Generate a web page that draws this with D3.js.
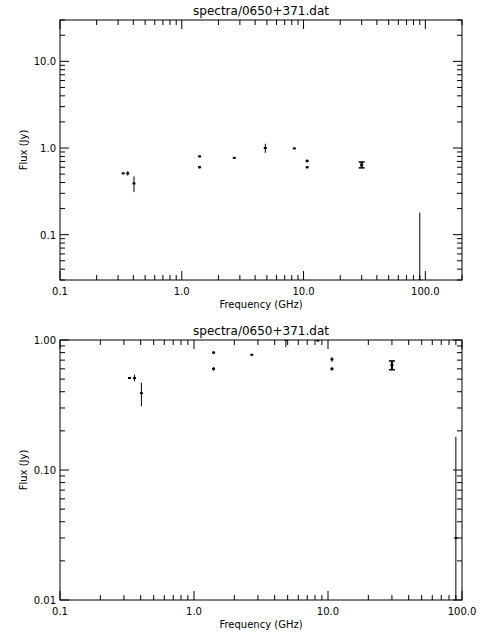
<!DOCTYPE html>
<html><head><meta charset="utf-8">
<script src="https://cdn.jsdelivr.net/npm/d3@7"></script>
<style>body{margin:0;background:#fff}text{font-family:"DejaVu Sans",sans-serif;font-size:10px;fill:#000}</style>
</head><body><svg id="c" width="480" height="640"></svg>
<script>
// frequency (GHz), flux (Jy), error (Jy)
const freq = [0.33, 0.36, 0.405, 1.4, 1.4, 2.7, 4.85, 8.4, 10.7, 10.7, 30, 90];
const flux = [0.51, 0.51, 0.39, 0.80, 0.60, 0.77, 1.0, 0.99, 0.71, 0.60, 0.64, 0.03];
const ferr = [0.01, 0.03, 0.08, 0.02, 0.02, 0.01, 0.12, 0.01, 0.03, 0.02, 0.05, 0.15];
const capped = [false, false, false, false, false, false, false, false, false, false, true, false];
const title = "spectra/0650+371.dat";

const svg = d3.select("#c");

function panel(top, xDom, yDom, yFmt) {
	let x0 = 60, x1 = 462, y0 = top, y1 = top + 260;
	let x = d3.scaleLog().domain(xDom).range([x0, x1]);
	let y = d3.scaleLog().domain(yDom).range([y1, y0]);
	let g = svg.append("g");
	let clipId = "clip" + top;
	g.append("clipPath").attr("id", clipId).append("rect")
		.attr("x", x0).attr("y", y0).attr("width", x1 - x0).attr("height", y1 - y0);

	g.append("text").attr("x", (x0 + x1) / 2).attr("y", y0 - 5)
		.attr("text-anchor", "middle").style("font-size", "12px").text(title);
	g.append("rect").attr("x", x0).attr("y", y0).attr("width", x1 - x0).attr("height", y1 - y0)
		.attr("fill", "none").attr("stroke", "#000");

	// ticks inward on all four sides
	let allTicks = (dom) => {
		let out = [];
		for (let e = -3; e <= 3; e++) for (let m = 1; m <= 9; m++) {
			let v = m * Math.pow(10, e);
			if (v >= dom[0] * 0.999 && v <= dom[1] * 1.001) out.push({v: v, major: m == 1});
		}
		return out;
	};
	allTicks(xDom).forEach(t => {
		let len = t.major ? 9 : 5;
		g.append("line").attr("x1", x(t.v)).attr("x2", x(t.v)).attr("y1", y1).attr("y2", y1 - len).attr("stroke", "#000");
		g.append("line").attr("x1", x(t.v)).attr("x2", x(t.v)).attr("y1", y0).attr("y2", y0 + len).attr("stroke", "#000");
		if (t.major) g.append("text").attr("x", x(t.v)).attr("y", y1 + 15).attr("text-anchor", "middle")
			.text(t.v >= 1 ? t.v.toFixed(1) : "0.1");
	});
	allTicks(yDom).forEach(t => {
		let len = t.major ? 9 : 5;
		g.append("line").attr("x1", x0).attr("x2", x0 + len).attr("y1", y(t.v)).attr("y2", y(t.v)).attr("stroke", "#000");
		g.append("line").attr("x1", x1).attr("x2", x1 - len).attr("y1", y(t.v)).attr("y2", y(t.v)).attr("stroke", "#000");
		if (t.major) g.append("text").attr("x", x0 - 4).attr("y", y(t.v) + 4).attr("text-anchor", "end").text(yFmt(t.v));
	});

	g.append("text").attr("x", (x0 + x1) / 2).attr("y", y1 + 28).attr("text-anchor", "middle").text("Frequency (GHz)");
	g.append("text").attr("transform", `translate(${x0 - 33},${(y0 + y1) / 2}) rotate(-90)`)
		.attr("text-anchor", "middle").text("Flux (Jy)");

	let pts = g.append("g").attr("clip-path", `url(#${clipId})`);
	freq.forEach((f, i) => {
		let lo = Math.max(flux[i] - ferr[i], 1e-4), hi = flux[i] + ferr[i];
		pts.append("line").attr("x1", x(f)).attr("x2", x(f)).attr("y1", y(lo)).attr("y2", y(hi))
			.attr("stroke", "#000").attr("stroke-width", capped[i] ? 2 : 1);
		if (capped[i]) [lo, hi].forEach(v => pts.append("line")
			.attr("x1", x(f) - 3).attr("x2", x(f) + 3).attr("y1", y(v)).attr("y2", y(v))
			.attr("stroke", "#000").attr("stroke-width", 1.5));
		pts.append("rect").attr("x", x(f) - 1.5).attr("y", y(flux[i]) - 1).attr("width", 3).attr("height", 2).attr("fill", "#000");
	});
}

panel(20, [0.1, 200], [0.03, 30], v => v.toFixed(1));
panel(340, [0.1, 100], [0.01, 1], v => v.toFixed(2));
</script></body></html>
